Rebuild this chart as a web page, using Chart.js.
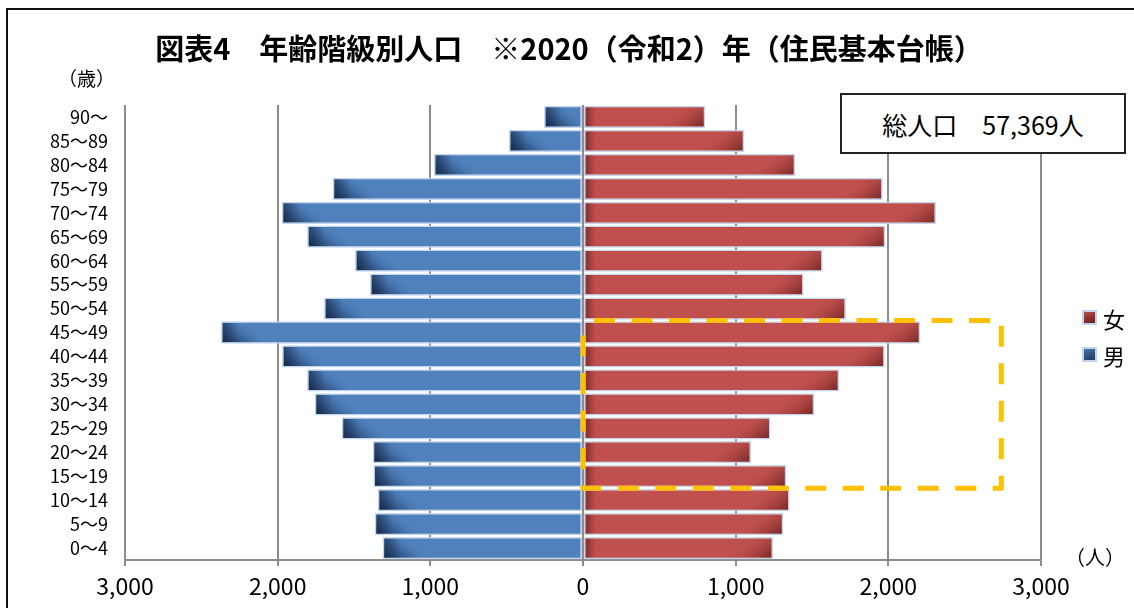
<!DOCTYPE html>
<html lang="ja">
<head>
<meta charset="utf-8">
<title>年齢階級別人口</title>
<script src="https://cdn.jsdelivr.net/npm/chart.js@4/dist/chart.umd.min.js"></script>
<style>
  html, body { margin: 0; padding: 0; background: #fff; }
  #wrap { position: relative; width: 1134px; height: 608px; overflow: hidden;
          font-family: "Noto Sans CJK JP", sans-serif; color: #000; }
  #frame { position: absolute; left: 6px; top: 8px; width: 1200px; height: 700px;
           border-left: 2px solid #111; border-top: 2px solid #111; }
  canvas { position: absolute; left: 0; top: 0; }
  .lbl { position: absolute; white-space: nowrap; line-height: 1; }
  #title { left: 0; width: 1134px; top: 47px; text-align: center; transform: translateY(-50%);
           font-size: 29px; font-weight: bold; padding-left: 2px; }
  #ageUnit { left: 86.5px; top: 77px; transform: translate(-50%, -50%); font-size: 19px; }
  #personUnit { left: 1095px; top: 557px; transform: translate(-50%, -50%); font-size: 20px; }
  #total { position: absolute; left: 840px; top: 93px; width: 286px; height: 61px; box-sizing: border-box;
           border: 2px solid #222; background: #fff; display: flex; align-items: center; justify-content: center;
           font-size: 25px; white-space: pre; }
  .legendItem { position: absolute; left: 1082px; display: flex; align-items: center; transform: translateY(-50%);
                font-size: 22px; line-height: 1; }
  .swatch { width: 11px; height: 11px; border: 2px solid #c3d3ec; margin-right: 6px; }
</style>
</head>
<body>
<div id="wrap">
  <div id="frame"></div>
  <canvas id="chart" width="1134" height="608"></canvas>
  <div class="lbl" id="title">図表4　年齢階級別人口　※2020（令和2）年（住民基本台帳）</div>
  <div class="lbl" id="ageUnit">（歳）</div>
  <div class="lbl" id="personUnit">（人）</div>
  <div id="total"></div>
  <div id="legend"></div>
</div>
<script>
// Age groups, youngest first (drawn bottom to top)
const ageGroups = ['0～4', '5～9', '10～14', '15～19', '20～24', '25～29', '30～34', '35～39', '40～44',
                   '45～49', '50～54', '55～59', '60～64', '65～69', '70～74', '75～79', '80～84', '85～89', '90～'];

// Population by age group (persons)
const male   = [1312, 1364, 1344, 1373, 1377, 1580, 1757, 1807, 1971, 2371, 1696, 1395, 1493, 1807, 1973, 1639, 976, 485, 255];
const female = [1245, 1312, 1353, 1332, 1101, 1228, 1515, 1678, 1976, 2209, 1722, 1445, 1570, 1980, 2312, 1963, 1390, 1056, 801];

// Series names and colours
const seriesNames = ['女', '男'];
const seriesColors = ['#c0504d', '#4f81bd'];

// Horizontal axis tick labels (left side counts men, right side women)
const xTickLabels = ['3,000', '2,000', '1,000', '0', '1,000', '2,000', '3,000'];

// Total population shown in the box
const totalPopulation = 57369;

// Dashed frame around women aged 15-49
const highlightBand = ['15～19', '45～49'];
const highlightLimit = 2740;

const FONT = '"Noto Sans CJK JP", sans-serif';

document.getElementById('total').textContent =
  '総人口　' + totalPopulation.toLocaleString('en-US') + '人';

// Soft inner shading at the bar ends
const barShading = {
  id: 'barShading',
  afterDatasetDraw(chart, args) {
    const ctx = chart.ctx;
    const ds = chart.data.datasets[args.index];
    const isMale = ds.label === seriesNames[1];
    const bw = 1.5;
    args.meta.data.forEach(el => {
      const p = el.getProps(['x', 'y', 'base', 'height'], true);
      const l = Math.min(p.x, p.base) + bw, r = Math.max(p.x, p.base) - bw;
      const t = p.y - p.height / 2 + bw, b = p.y + p.height / 2 - bw;
      if (r <= l) return;
      ctx.save();
      ctx.beginPath();
      ctx.rect(l, t, r - l, b - t);
      ctx.clip();
      if (isMale) {
        const g = ctx.createLinearGradient(l, b, l + 0.62 * 30, b - 0.79 * 30);
        g.addColorStop(0, 'rgba(16,34,62,0.92)');
        g.addColorStop(0.5, 'rgba(32,58,98,0.42)');
        g.addColorStop(1, 'rgba(79,129,189,0)');
        ctx.fillStyle = g;
        ctx.fillRect(l, t, r - l, b - t);
        const h = ctx.createLinearGradient(l, 0, l + 16, 0);
        h.addColorStop(0, 'rgba(22,42,76,0.5)');
        h.addColorStop(1, 'rgba(22,42,76,0)');
        ctx.fillStyle = h;
        ctx.fillRect(l, t, r - l, b - t);
      } else {
        const g = ctx.createLinearGradient(r, b, r - 0.62 * 30, b - 0.79 * 30);
        g.addColorStop(0, 'rgba(70,16,16,0.6)');
        g.addColorStop(0.5, 'rgba(100,30,28,0.22)');
        g.addColorStop(1, 'rgba(192,80,77,0)');
        ctx.fillStyle = g;
        ctx.fillRect(l, t, r - l, b - t);
        const h = ctx.createLinearGradient(l, 0, l + 10, 0);
        h.addColorStop(0, 'rgba(80,20,20,0.55)');
        h.addColorStop(1, 'rgba(80,20,20,0)');
        ctx.fillStyle = h;
        ctx.fillRect(l, t, r - l, b - t);
      }
      ctx.restore();
    });
  }
};

// Dashed frame over the selected age band
const highlightFrame = {
  id: 'highlightFrame',
  afterDatasetsDraw(chart) {
    const { ctx, scales: { x, y } } = chart;
    const i0 = ageGroups.indexOf(highlightBand[0]);
    const i1 = ageGroups.indexOf(highlightBand[1]);
    const half = Math.abs(y.getPixelForValue(1) - y.getPixelForValue(0)) / 2;
    const yTop = y.getPixelForValue(i1) - half;
    const yBot = y.getPixelForValue(i0) + half;
    const xl = x.getPixelForValue(0);
    const xr = x.getPixelForValue(highlightLimit);
    ctx.save();
    ctx.strokeStyle = '#ffc000';
    ctx.lineWidth = 5;
    ctx.setLineDash([21, 16.5]);
    ctx.lineDashOffset = 26.5;
    ctx.lineJoin = 'round';
    ctx.beginPath();
    ctx.moveTo(xl, yTop);
    ctx.lineTo(xr, yTop);
    ctx.lineTo(xr, yBot);
    ctx.lineTo(xl, yBot);
    ctx.closePath();
    ctx.stroke();
    ctx.restore();
  }
};

const common = {
  borderColor: '#c5d5ee',
  borderWidth: 1.5,
  borderSkipped: false,
  barPercentage: 0.93,
  categoryPercentage: 1
};

const chart = new Chart(document.getElementById('chart'), {
  type: 'bar',
  data: {
    labels: ageGroups,
    datasets: [
      Object.assign({ label: seriesNames[0], data: female, backgroundColor: seriesColors[0] }, common),
      Object.assign({ label: seriesNames[1], data: male.map(v => -v), backgroundColor: seriesColors[1] }, common)
    ]
  },
  options: {
    indexAxis: 'y',
    responsive: false,
    animation: false,
    devicePixelRatio: 1,
    layout: { padding: { left: 0, right: 93, top: 105, bottom: 0 } },
    plugins: {
      legend: { display: false },
      title: { display: false },
      tooltip: { enabled: false }
    },
    scales: {
      x: {
        type: 'linear',
        stacked: true,
        min: -3000,
        max: 3000,
        ticks: {
          stepSize: 1000,
          autoSkip: false,
          maxRotation: 0,
          padding: 6,
          color: '#000',
          font: { family: FONT, size: 23 },
          callback: (v, i) => xTickLabels[i]
        },
        grid: { color: '#8c8c8c', lineWidth: 2, tickLength: 6, drawTicks: true },
        border: { display: true, color: '#8c8c8c', width: 2 },
        afterFit: s => { s.height = 48; }
      },
      y: {
        type: 'category',
        stacked: true,
        reverse: true,
        grid: { display: false, drawTicks: false },
        border: { display: false },
        ticks: { padding: 17, autoSkip: false, color: '#000', font: { family: FONT, size: 18 } },
        afterFit: s => { s.width = 125; }
      }
    }
  },
  plugins: [barShading, highlightFrame]
});

// Legend built from the chart's datasets
const swatchFills = {
  '女': 'linear-gradient(160deg, #b9504c 0%, #8e2e2b 55%, #6f201e 100%)',
  '男': 'linear-gradient(160deg, #4a74a8 0%, #2f5180 55%, #223d63 100%)'
};
const legendTops = [317.5, 354.5];
const legendEl = document.getElementById('legend');
chart.data.datasets.forEach((ds, i) => {
  const item = document.createElement('div');
  item.className = 'legendItem';
  item.style.top = legendTops[i] + 'px';
  const sw = document.createElement('span');
  sw.className = 'swatch';
  sw.style.background = swatchFills[ds.label];
  const tx = document.createElement('span');
  tx.textContent = ds.label;
  item.appendChild(sw);
  item.appendChild(tx);
  legendEl.appendChild(item);
});
</script>
</body>
</html>
